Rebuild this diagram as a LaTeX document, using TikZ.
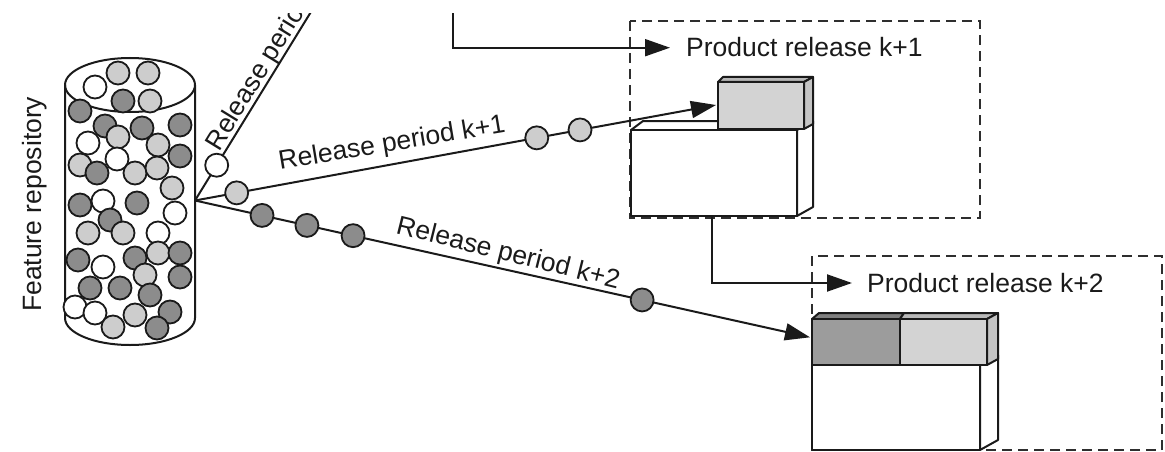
\documentclass[tikz,border=0pt]{standalone}
\usepackage{fontspec}
\setmainfont{Liberation Sans}
\usetikzlibrary{arrows.meta}

\definecolor{ink}{HTML}{1A1A1A}
\definecolor{featlight}{HTML}{CDCDCD}
\definecolor{featdark}{HTML}{8C8C8C}
\definecolor{dashgray}{HTML}{2E2E2E}
\definecolor{blocklight}{HTML}{D3D3D3}
\definecolor{blocklighttop}{HTML}{B8B8B8}
\definecolor{blockside}{HTML}{C4C4C4}
\definecolor{blockdark}{HTML}{9C9C9C}
\definecolor{blockdarktop}{HTML}{808080}

\begin{document}
\begin{tikzpicture}[x=1pt,y=-1pt,
  conn/.style={draw=ink, line width=2pt},
  tip/.style={-{Triangle[length=25pt,width=17pt]}},
  feat/.style={circle, draw=ink, line width=1.8pt, minimum size=23pt, inner sep=0pt},
  lbl/.style={font=\fontsize{26.5}{30}\selectfont, text=ink, inner sep=0pt},
  release/.style={draw=dashgray, line width=2.4pt, dash pattern=on 10pt off 6pt},
  face/.style={draw=ink, line width=2pt, line join=round}]

\useasboundingbox (0,0) rectangle (1165,452);

\begin{scope}
\clip (0,14) rectangle (1165,452);

% dashed frames of the two product releases
\draw[release] (630,21) rectangle (980,218);
\draw[release] (812,256) rectangle (1162,450);

% ---- product release k+1: base block with one new feature block on top
\filldraw[face, fill=white] (631,130) -- (643,121) -- (813,121) -- (797,130) -- cycle;
\filldraw[face, fill=white] (797,130) -- (813,121) -- (813,207) -- (797,216) -- cycle;
\filldraw[face, fill=white] (631,130) rectangle (797,216);
\filldraw[face, fill=blocklighttop] (718,82) -- (723,77) -- (813,77) -- (804,82) -- cycle;
\filldraw[face, fill=blockside] (804,82) -- (813,77) -- (813,124) -- (804,129) -- cycle;
\filldraw[face, fill=blocklight] (718,82) rectangle (804,129);

% ---- product release k+2: base block with two feature blocks on top
\filldraw[face, fill=white] (980,365) -- (998,355) -- (998,440) -- (980,450) -- cycle;
\filldraw[face, fill=white] (812,365) rectangle (980,450);
\filldraw[face, fill=blockdarktop] (812,319) -- (819,313) -- (904,313) -- (900,319) -- cycle;
\filldraw[face, fill=blocklighttop] (900,319) -- (904,313) -- (998,313) -- (987,319) -- cycle;
\filldraw[face, fill=blockside] (987,319) -- (998,313) -- (998,359) -- (987,365) -- cycle;
\filldraw[face, fill=blockdark] (812,319) rectangle (900,365);
\filldraw[face, fill=blocklight] (900,319) rectangle (987,365);

% ---- feature repository (cylinder)
\filldraw[face, fill=white] (65,85) -- (65,318)
  arc[start angle=180, end angle=0, x radius=65, y radius=27] -- (195,85);
\draw[face] (130,85) ellipse [x radius=65, y radius=27];
\foreach \x/\y/\c [count=\i] in {
  118/73/featlight, 148/73/featlight, 95/87/white, 123/101/featdark, 150/101/featlight,
  80/111/featdark, 105/126/featdark, 142/128/featdark, 180/125/featdark, 118/137/featlight,
  88/143/white, 158/145/featlight, 180/156/featdark, 117/159/white, 80/165/featlight,
  97/173/featdark, 135/173/featlight, 157/168/featlight, 172/188/featlight, 103/201/white,
  80/205/featdark, 137/203/featdark, 175/213/white, 110/220/featdark, 88/233/featlight,
  123/233/featlight, 158/233/white, 158/253/featlight, 135/258/featdark, 180/253/featdark,
  78/260/featdark, 103/267/white, 145/275/featlight, 180/277/featdark, 90/288/featdark,
  120/288/featdark, 150/295/featdark, 75/307/white, 95/313/white, 170/312/featdark,
  135/315/featlight, 113/327/featlight, 157/328/featdark}
  \node[feat, fill=\c] (f\i) at (\x,\y) {};

\node[lbl, anchor=base west, rotate=90] (repo) at (41,312) {Feature repository};

% ---- release periods leaving the repository
\coordinate (hub)  at (195,200.5);
\coordinate (far0) at (315.5,4.5);
\coordinate (t1)   at (716,105);
\coordinate (t2)   at (810,337.3);

\draw[conn] (hub) -- (far0)
  node[feat, fill=white, pos=0.18] (p0a) {};
\draw[conn, tip] (hub) -- (t1)
  node[feat, fill=featlight, pos=0.080] (p1a) {}
  node[feat, fill=featlight, pos=0.656] (p1b) {}
  node[feat, fill=featlight, pos=0.739] (p1c) {};
\draw[conn, tip] (hub) -- (t2)
  node[feat, fill=featdark, pos=0.109] (p2a) {}
  node[feat, fill=featdark, pos=0.182] (p2b) {}
  node[feat, fill=featdark, pos=0.257] (p2c) {}
  node[feat, fill=featdark, pos=0.727] (p2d) {};

\node[lbl, anchor=base west, rotate=58.4] (lk0) at (219,152.4) {Release period k};
\node[lbl, anchor=base west, rotate=9.5]  (lk1) at (280,170)   {Release period k+1};
\node[lbl, anchor=base west, rotate=-14]  (lk2) at (395,233.3) {Release period k+2};

% ---- hand-over from one product release to the next
\coordinate (prev) at (453,0);
\coordinate (in1)  at (670,47.7);
\coordinate (b1out) at (712,216);
\coordinate (in2)  at (852,283);
\draw[conn, tip] (prev) |- (in1);
\draw[conn, tip] (b1out) |- (in2);

\node[lbl, anchor=base west] (rel1) at (686,57)  {Product release k+1};
\node[lbl, anchor=base west] (rel2) at (867,292) {Product release k+2};
\end{scope}
\end{tikzpicture}
\end{document}
